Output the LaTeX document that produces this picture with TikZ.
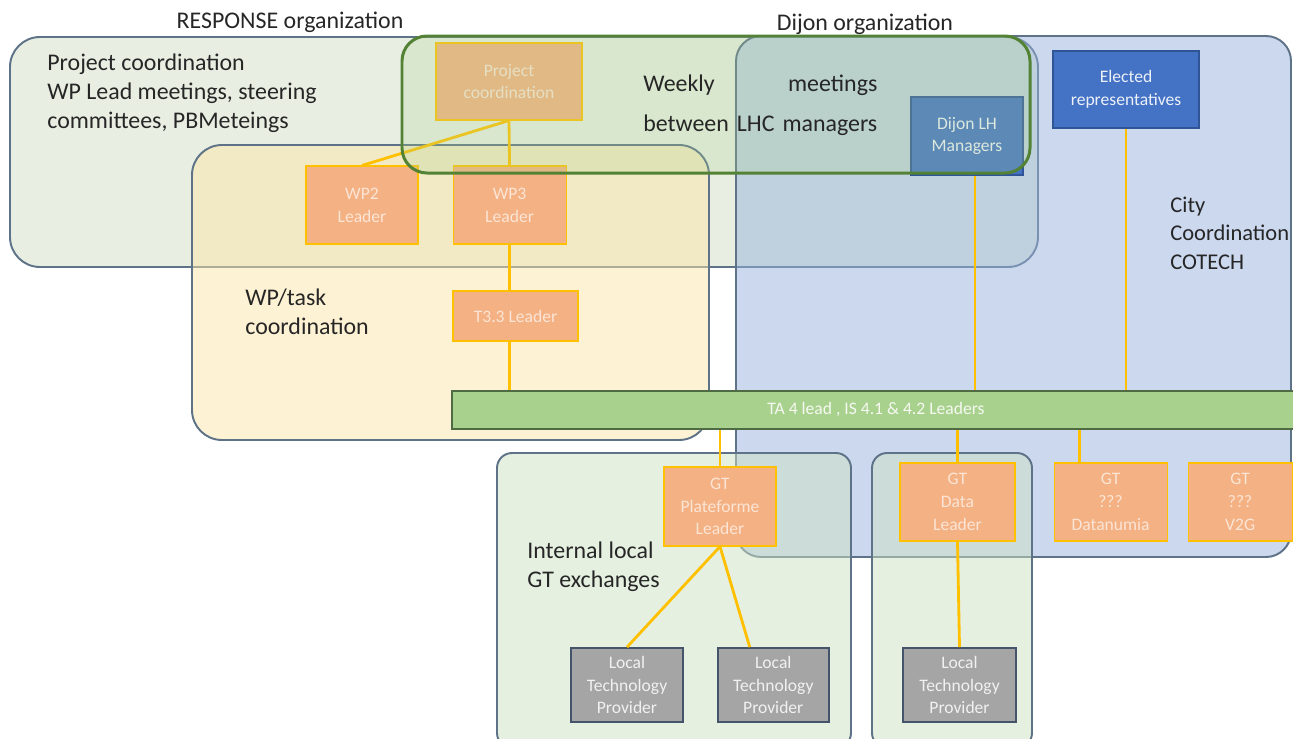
\documentclass[tikz,border=0pt]{standalone}
\usepackage{fontspec}
\setmainfont{Carlito}
\usetikzlibrary{positioning}
\definecolor{gtorange}{HTML}{F4B183}
\definecolor{gtgold}{HTML}{FFC000}
\definecolor{gttext}{HTML}{FBE5D6}
\definecolor{cityblue}{HTML}{4472C4}
\definecolor{cityedge}{HTML}{2F5597}
\definecolor{ltpgray}{HTML}{A5A5A5}
\definecolor{ltpedge}{HTML}{44546A}
\definecolor{barfill}{HTML}{A9D18E}
\definecolor{baredge}{HTML}{4E6B44}
\definecolor{frame}{HTML}{5E7388}
\definecolor{respfill}{HTML}{D1DFC5}
\definecolor{dijonfill}{HTML}{97B1DD}
\definecolor{taskfill}{HTML}{FBE5A7}
\definecolor{gtfill}{HTML}{CDE1C3}
\definecolor{weeklyedge}{HTML}{548235}
\begin{document}
\begin{tikzpicture}[x=0.2mm, y=-0.2mm,
  area/.style = {draw=frame, line width=1.1pt, fill opacity=0.5},
  label/.style = {align=left, inner sep=0pt, font=\fontsize{13.6}{16.6}\selectfont, text=black!85},
  gtbox/.style = {draw=gtgold, line width=0.6pt, fill=gtorange, text=gttext, align=center,
                  inner sep=1pt, font=\fontsize{10}{13}\selectfont},
  citybox/.style = {gtbox, draw=cityedge, fill=cityblue, text=white!90!cityblue},
  ltpbox/.style = {gtbox, draw=ltpedge, line width=1pt, fill=ltpgray, text=white!85!ltpgray},
  link/.style = {draw=gtgold, line width=1.6pt}]
\useasboundingbox (0,0) rectangle (1293,738);
\clip (0,0) rectangle (1293,738);

% areas
\draw[area, fill=respfill, rounded corners=6mm] (10,37) rectangle (1038,267);
\draw[area, fill=dijonfill, rounded corners=5mm] (736,36) rectangle (1291,557);
\draw[area, fill=taskfill, rounded corners=6mm] (192,145) rectangle (709,440);
\draw[area, fill=gtfill, rounded corners=3mm] (497,453) rectangle (851,748);
\draw[area, fill=gtfill, rounded corners=3mm] (872,453) rectangle (1032,748);

% RESPONSE side
\node[gtbox, minimum width=29.2mm, minimum height=15.4mm] (pc) at (509,81.5) {Project\\coordination};
\node[gtbox, minimum width=22.4mm, minimum height=15.6mm] (wp2) at (362,205) {WP2\\Leader};
\node[gtbox, minimum width=22.6mm, minimum height=15.6mm] (wp3) [right=6.8mm of wp2] {WP3\\Leader};
\node[gtbox, minimum width=25mm, minimum height=10mm] (t33) at (515.5,316) {T3.3 Leader};

% Dijon side
\node[citybox, minimum width=22.4mm, minimum height=15.6mm] (dijon) at (967,136) {Dijon LH\\Managers};
\node[citybox, minimum width=29.2mm, minimum height=15.4mm] (elected) at (1126,89.5) {Elected\\representatives};

\node[gtbox, draw=baredge, line width=0.8pt, fill=barfill, text=white!88!barfill,
      minimum width=169.6mm, minimum height=7.6mm] (bar) at (876,410) {TA 4 lead , IS 4.1 \& 4.2 Leaders};

% GT level
\node[gtbox, minimum width=22.4mm, minimum height=15.8mm] (gtp) at (720,506.5) {GT\\Plateforme\\Leader};
\node[gtbox, minimum width=23mm, minimum height=15.6mm] (gtd) at (957.5,502) {GT\\Data\\Leader};
\node[gtbox, minimum width=22.6mm, minimum height=15.6mm] (gtdn) [right=7.6mm of gtd.south east, anchor=south west] {GT\\???\\Datanumia};
\node[gtbox, minimum width=20.8mm, minimum height=15.6mm] (gtv) [right=4mm of gtdn] {GT\\???\\V2G};

\node[ltpbox, minimum width=22.4mm, minimum height=14.8mm] (ltp1) at (627,685) {Local\\Technology\\Provider};
\node[ltpbox, minimum width=22.2mm, minimum height=14.8mm] (ltp2) [right=6.6mm of ltp1] {Local\\Technology\\Provider};
\node[ltpbox, minimum width=22.6mm, minimum height=14.8mm] (ltp3) at (959.5,685) {Local\\Technology\\Provider};

% links
\draw[link] (pc.south) -- (wp2.north);
\draw[link] (pc.south) -- (wp3.north);
\draw[link] (wp3.south) -- (wp3.south |- t33.north);
\draw[link] (wp3.south |- t33.south) -- (wp3.south |- bar.north);
\draw[link] ([xshift=1.6mm]dijon.south) -- ([xshift=1.6mm]dijon.south |- bar.north);
\draw[link] (elected.south) -- (elected.south |- bar.north);
\draw[link] (gtp.north |- bar.south) -- (gtp.north);
\draw[link] (gtd.north |- bar.south) -- (gtd.north);
\draw[link] ([xshift=-6.2mm]gtdn.north |- bar.south) -- ([xshift=-6.2mm]gtdn.north);
\draw[link] (gtp.south) -- (ltp1.north);
\draw[link] (gtp.south) -- ([xshift=-4.7mm]ltp2.north);
\draw[link] (gtd.south) -- (ltp3.north);

% weekly meetings overlay
\draw[draw=weeklyedge, line width=1.7pt, fill=barfill, fill opacity=0.25, rounded corners=5mm]
  (402,36) rectangle (1030,173);

% labels
\node[label] (resplbl) at (290,22) {RESPONSE organization};
\node[label] (dijonlbl) at (865,24) {Dijon organization};
\node[label, anchor=west] (pclbl) at (47,93.5) {Project coordination\\WP Lead meetings, steering\\committees, PBMeteings};
\node[label, anchor=west] (tasklbl) at (245,311.5) {WP/task\\coordination};
\node[label, anchor=west, font=\fontsize{12.8}{16.2}\selectfont] (citylbl) at (1170,233) {City\\Coordination\\COTECH};
\node[label, anchor=west] (gtlbl) at (527,567) {Internal local\\GT exchanges};
\node[label, anchor=west, text width=46.8mm] (weeklylbl) at (643,105.5)
  {Weekly\hfill meetings\\[2.2mm]between LHC managers};
\end{tikzpicture}
\end{document}
